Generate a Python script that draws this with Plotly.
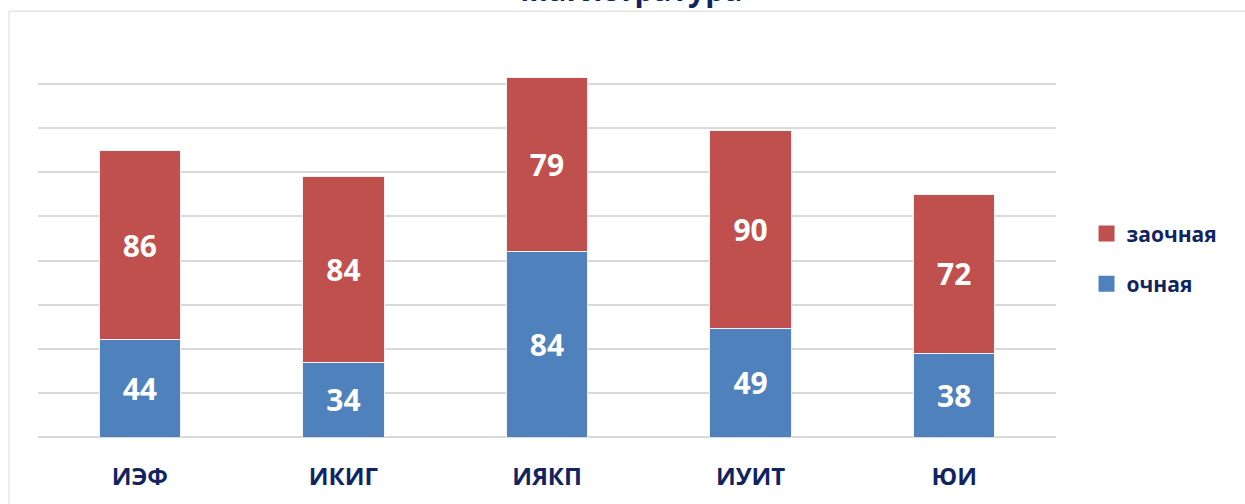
import plotly.graph_objects as go

categories = ["ИЭФ", "ИКИГ", "ИЯКП", "ИУИТ", "ЮИ"]
ochnaya = [44, 34, 84, 49, 38]
zaochnaya = [86, 84, 79, 90, 72]
series_names = ["очная", "заочная"]
title_text = "Магистратура"

NAVY = "#0F2461"
RED = "#C0504D"
BLUE = "#4F81BD"
FONT = "Open Sans"

fig = go.Figure()
fig.add_trace(go.Bar(
    x=categories, y=ochnaya, name=series_names[0],
    marker=dict(color=BLUE, line=dict(color="#F2F2F2", width=1)),
    text=ochnaya, textposition="inside", insidetextanchor="middle",
    textfont=dict(family=FONT, size=30, color="white", weight="bold"),
    showlegend=False,
))
fig.add_trace(go.Bar(
    x=categories, y=zaochnaya, name=series_names[1],
    marker=dict(color=RED, line=dict(color="#F2F2F2", width=1)),
    text=zaochnaya, textposition="inside", insidetextanchor="middle",
    textfont=dict(family=FONT, size=30, color="white", weight="bold"),
    showlegend=False,
))
# legend entries (square swatches)
fig.add_trace(go.Scatter(x=[None], y=[None], mode="markers", name=series_names[1],
                         marker=dict(symbol="square", size=16, color=RED),
                         legendgroup="z"))
fig.add_trace(go.Scatter(x=[None], y=[None], mode="markers", name=series_names[0],
                         marker=dict(symbol="square", size=16, color=BLUE),
                         legendgroup="o"))

fig.update_layout(
    width=1245, height=504,
    margin=dict(l=38, r=189, t=40, b=65),
    paper_bgcolor="white", plot_bgcolor="white",
    barmode="stack", bargap=0.6,
    uniformtext=dict(mode=False),
    font=dict(family=FONT, color=NAVY),
    legend=dict(x=1.030, y=(439 - 260) / 399, xanchor="left", yanchor="middle",
                font=dict(family=FONT, size=21, color=NAVY, weight="bold"),
                tracegroupgap=20, itemwidth=30, bgcolor="rgba(0,0,0,0)"),
    xaxis=dict(showgrid=False, showline=False, zeroline=False,
               tickfont=dict(family=FONT, size=24, color=NAVY, weight="bold"),
               ticklabelstandoff=23, fixedrange=True),
    yaxis=dict(range=[0, 180], dtick=20, showticklabels=False,
               showgrid=True, gridcolor="#D9D9D9", gridwidth=1.5,
               zeroline=True, zerolinecolor="#D9D9D9", zerolinewidth=1.5,
               showline=False),
    shapes=[dict(type="rect", xref="paper", yref="paper",
                 x0=(9 - 38) / 1018, y0=(439 - 11) / 399, x1=1.5, y1=-0.5,
                 line=dict(color="#D9D9D9", width=1), fillcolor="rgba(0,0,0,0)",
                 layer="below")],
    annotations=[dict(text=title_text, xref="paper", yref="paper",
                      x=(631 - 38) / 1018, y=1 + (40 - 12) / 399,
                      xanchor="center", yanchor="bottom", showarrow=False,
                      font=dict(family=FONT, size=30, color=NAVY, weight="bold"))],
)

fig.write_html("out.html", post_script="document.body.style.margin='0';",
               config={"displayModeBar": False})
